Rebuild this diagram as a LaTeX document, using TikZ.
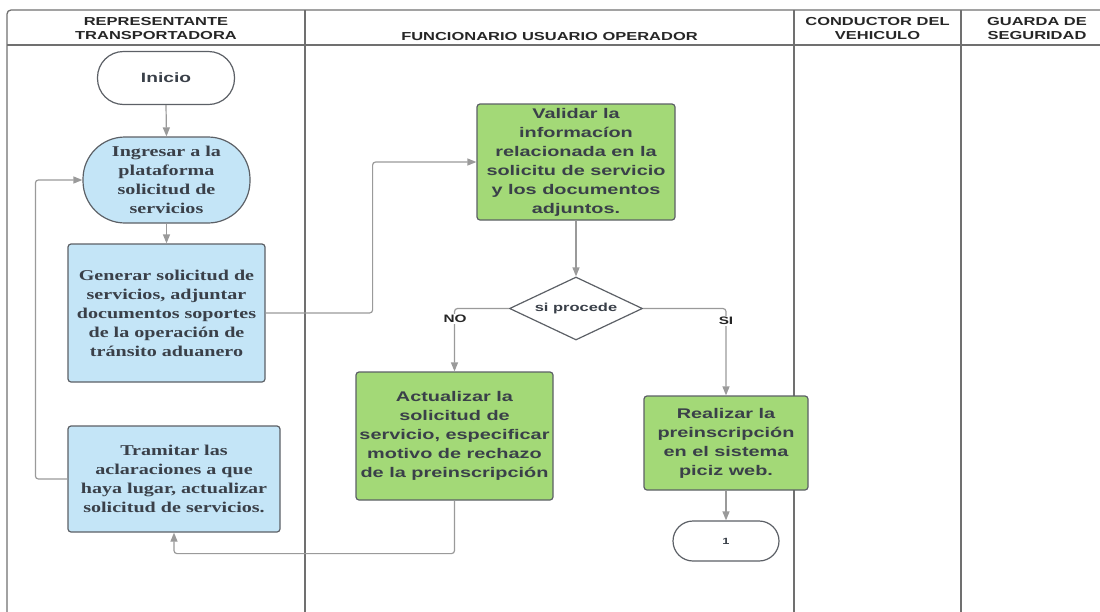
\documentclass[tikz,border=0pt]{standalone}
\usepackage{fontspec}
\usetikzlibrary{arrows.meta,shapes.geometric}
\newfontfamily\hs[FakeStretch=1.42]{Liberation Sans}
\newfontfamily\hr[FakeStretch=1.34]{Liberation Serif}
\definecolor{lanec}{HTML}{707070}
\definecolor{boxc}{HTML}{5C6066}
\definecolor{connc}{HTML}{9A9A9A}
\definecolor{txtc}{HTML}{3A4049}
\definecolor{bluec}{HTML}{C4E5F7}
\definecolor{greenc}{HTML}{A3D977}
\tikzset{
 lane/.style={draw=lanec, line width=1.3pt},
 hdr/.style={align=center, inner sep=0pt, text=black!85, font=\hs\bfseries\fontsize{11.6}{14}\selectfont},
 txt/.style={text=txtc, align=center, inner sep=0pt},
 bluebox/.style={txt, draw=boxc, line width=1.2pt, fill=bluec, rounded corners=3pt, font=\hr\bfseries\fontsize{15}{19}\selectfont},
 greenbox/.style={txt, draw=boxc, line width=1.2pt, fill=greenc, rounded corners=3pt, font=\hs\bfseries\fontsize{14}{19}\selectfont},
 conn/.style={draw=connc, line width=1.2pt, rounded corners=3pt, -{Triangle[length=9pt,width=7pt]}},
 lbl/.style={inner sep=1pt, fill=white, text=black!85, font=\hs\bfseries\fontsize{10.8}{13}\selectfont},
}
\begin{document}
\begin{tikzpicture}[x=1pt,y=-1pt]
\useasboundingbox (0,0) rectangle (1100,611);
% swimlanes
\draw[lane, rounded corners=4pt] (7,630) |- (1125,10);
\draw[lane] (7,45) -- (1125,45);
\draw[lane] (305,10) -- (305,630);
\draw[lane] (794,10) -- (794,630);
\draw[lane] (961,10) -- (961,630);
\node[hdr] (h1) at (156,29) {REPRESENTANTE\\TRANSPORTADORA};
\node[hdr, anchor=base] (h2) at (549.5,40) {FUNCIONARIO USUARIO OPERADOR};
\node[hdr] (h3) at (877.5,29) {CONDUCTOR DEL\\VEHICULO};
\node[hdr] (h4) at (1037,29) {GUARDA DE\\SEGURIDAD};
% nodes
\node[txt, draw=boxc, line width=1.2pt, fill=white, minimum width=137pt, minimum height=53pt, rounded corners=26pt, font=\hs\bfseries\fontsize{13.5}{16}\selectfont] (ini) at (166,78) {Inicio};
\node[bluebox, minimum width=167pt, minimum height=86pt, rounded corners=42pt] (ing) at (166.5,180) {Ingresar a la\\plataforma\\solicitud de\\servicios};
\node[bluebox, minimum width=197pt, minimum height=138pt] (gen) at (166.5,313) {Generar solicitud de\\servicios, adjuntar\\documentos soportes\\de la operación de\\tránsito aduanero};
\node[bluebox, minimum width=212pt, minimum height=106pt] (tram) at (174,479) {Tramitar las\\aclaraciones a que\\haya lugar, actualizar\\solicitud de servicios.};
\node[greenbox, minimum width=198pt, minimum height=116pt] (val) at (576,162) {Validar la\\informacíon\\relacionada en la\\solicitu de servicio\\y los documentos\\adjuntos.};
\node[txt, diamond, aspect=2.1, draw=boxc, line width=1.2pt, fill=white, minimum width=133pt, minimum height=63pt, font=\hs\bfseries\fontsize{11.6}{14}\selectfont] (dec) at (576,308.5) {\raisebox{2pt}{si procede}};
\node[greenbox, minimum width=197pt, minimum height=128pt] (act) at (454.5,436) {Actualizar la\\solicitud de\\servicio, especificar\\motivo de rechazo\\de la preinscripción};
\node[greenbox, minimum width=164pt, minimum height=94pt] (real) at (726,443) {Realizar la\\preinscripción\\en el sistema\\piciz web.};
\node[txt, draw=boxc, line width=1.2pt, fill=white, minimum width=106pt, minimum height=40pt, rounded corners=20pt, font=\hs\bfseries\fontsize{9}{11}\selectfont] (one) at (726,541) {1};
% connectors
\draw[conn] (ini.south) -- (ing.north);
\draw[conn] (ing.south) -- (gen.north);
\draw[conn] (gen.east) -- ++(107,0) |- (val.west);
\draw[conn] (val.south) -- (dec.north);
\draw[conn] (dec.west) -| (act.north);
\draw[conn] (dec.east) -| (real.north);
\draw[conn] (real.south) -- (one.north);
\draw[conn] (act.south) -- ++(0,53) -| (tram.south);
\draw[conn] (tram.west) -- ++(-32,0) |- (ing.west);
% labels
\node[lbl] (no) at (455,319) {NO};
\node[lbl] (si) at (726,321) {SI};
\end{tikzpicture}
\end{document}
